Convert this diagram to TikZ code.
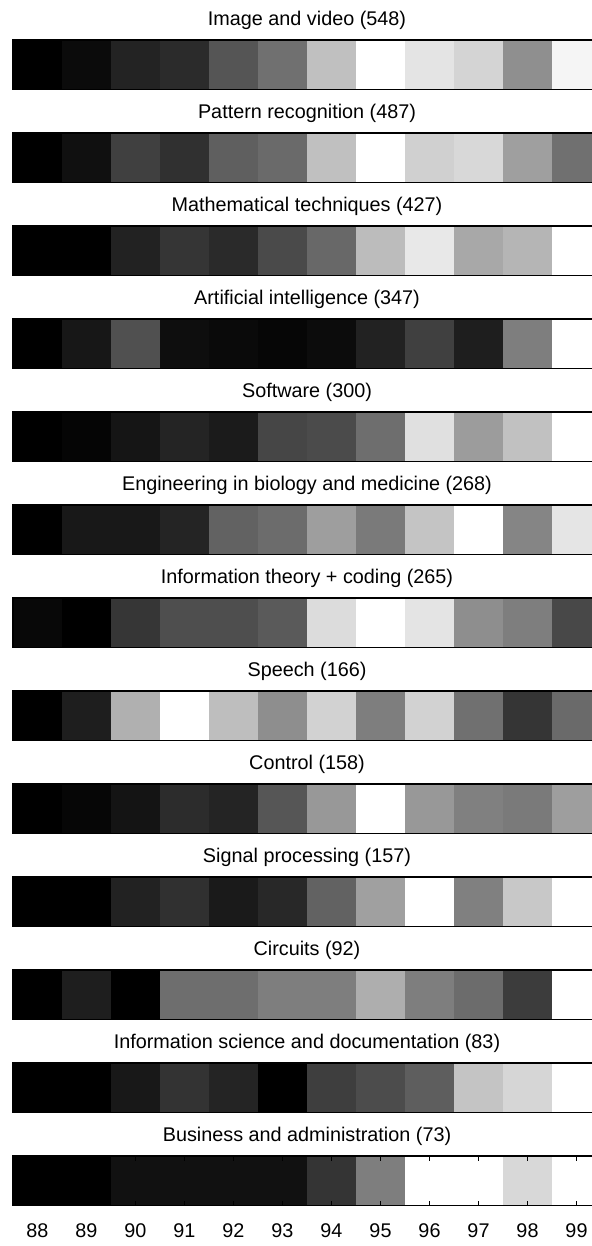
\documentclass[tikz,border=0pt]{standalone}
\usepackage{fontspec}
\setmainfont{Liberation Sans}
\begin{document}
\begin{tikzpicture}[x=1bp,y=-1bp,
  title/.style={font=\fontsize{19.8bp}{24bp}\selectfont, anchor=base, inner sep=0pt},
  ticklab/.style={font=\fontsize{19.8bp}{24bp}\selectfont, anchor=base, inner sep=0pt},
  frame/.style={draw=black, line width=1.2bp},
  tickmark/.style={draw=black, line width=0.9bp}]
\useasboundingbox (0,0) rectangle (592,1246);
\clip (0,0) rectangle (592,1246);
% each row: twelve grey levels (0..255) for the years 88..99, then the row title
\foreach \vals/\ttl [count=\r from 0] in {
  {0,11,35,43,85,112,192,255,228,212,143,245}/{Image and video (548)},
  {0,16,64,48,95,106,192,255,208,216,159,112}/{Pattern recognition (487)},
  {0,0,34,53,42,74,104,188,232,168,181,255}/{Mathematical techniques (427)},
  {0,23,80,14,10,6,12,34,64,30,126,255}/{Artificial intelligence (347)},
  {0,5,21,36,27,70,75,110,224,156,193,255}/{Software (300)},
  {0,24,24,36,98,108,158,122,196,255,133,229}/{Engineering in biology and medicine (268)},
  {8,0,54,78,78,90,220,255,228,142,126,72}/{Information theory + coding (265)},
  {0,30,176,255,190,142,210,126,210,112,53,106}/{Speech (166)},
  {0,6,20,44,36,86,152,255,152,128,122,158}/{Control (158)},
  {0,0,34,48,26,40,98,160,255,128,200,255}/{Signal processing (157)},
  {0,30,0,110,110,126,126,174,126,108,60,255}/{Circuits (92)},
  {0,0,24,51,36,0,62,76,94,196,214,255}/{Information science and documentation (83)},
  {0,0,17,17,17,17,52,126,255,255,216,255}/{Business and administration (73)}} {
  \foreach \v [count=\c from 0] in \vals {
    \definecolor{cellc}{RGB}{\v,\v,\v}
    \fill[cellc] ({13+49*\c},{40+93*\r}) rectangle ++(49,49.5);
  }
  \draw[frame] (13,{40+93*\r}) rectangle (601,{89.5+93*\r});
  \node[title] (t\r) at (307,{25+93*\r}) {\ttl};
}
% year ticks and labels on the bottom row
\foreach \k in {0,...,11} {
  \pgfmathtruncatemacro\yr{88+\k}
  \draw[tickmark] ({37.5+49*\k},1156) -- ++(0,5);
  \draw[tickmark] ({37.5+49*\k},1205.5) -- ++(0,-5);
  \node[ticklab] (l\yr) at ({37.5+49*\k},1237) {\yr};
}
\end{tikzpicture}
\end{document}
